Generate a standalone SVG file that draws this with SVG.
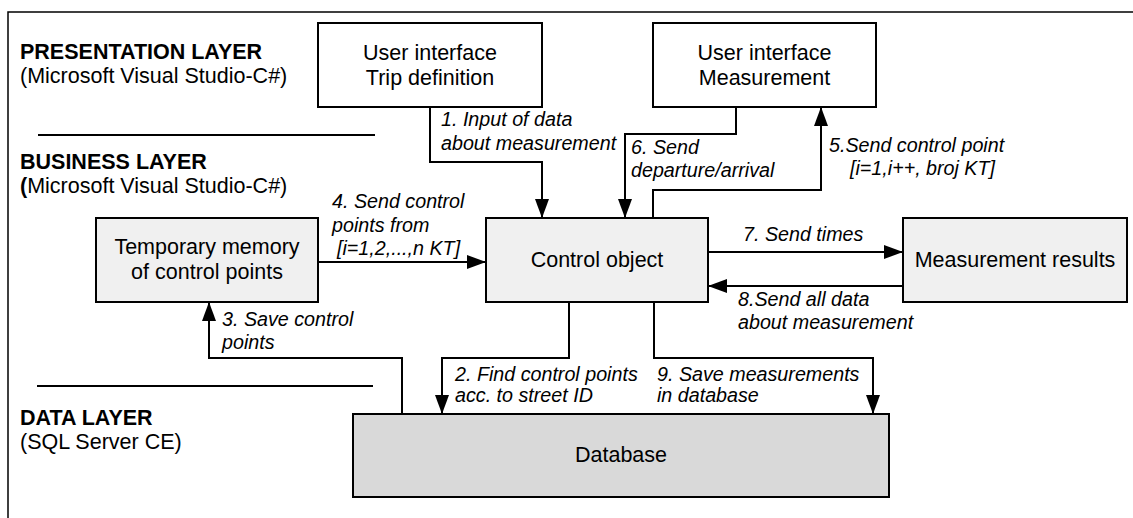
<svg xmlns="http://www.w3.org/2000/svg" width="1133" height="518" viewBox="0 0 1133 518">
<defs>
<marker id="ah" markerUnits="userSpaceOnUse" markerWidth="19" markerHeight="14" refX="19" refY="7" orient="auto" viewBox="0 0 19 14">
<path d="M0,0 L19,7 L0,14 z" fill="#000"/>
</marker>
<style>
.box{stroke:#000;stroke-width:2}
.w{fill:#fff}
.g{fill:#f0f0f0}
.d{fill:#d9d9d9}
.t{font-family:"Liberation Sans",Arial,sans-serif;font-size:21.5px;fill:#000}
.b{font-weight:bold}
.c{text-anchor:middle}
.l{font-family:"Liberation Sans",Arial,sans-serif;font-size:19.7px;font-style:italic;fill:#000}
.cn{fill:none;stroke:#000;stroke-width:2}
.ar{marker-end:url(#ah)}
.sep{stroke:#000;stroke-width:2}
.fr{fill:none;stroke:#000;stroke-width:1.5}
</style>
</defs>
<rect width="1133" height="518" fill="#fff"/>
<g id="frame">
<path class="fr" d="M8,518 L8,12 L1133,12"/>
<line class="sep" x1="38" y1="135" x2="375" y2="135"/>
<line class="sep" x1="37" y1="386" x2="373" y2="386"/>
</g>
<g id="layers">
<text class="t b" x="20" y="59">PRESENTATION LAYER</text>
<text class="t" x="20" y="83">(Microsoft Visual Studio-C#)</text>
<text class="t b" x="20" y="169">BUSINESS LAYER</text>
<text class="t" x="20" y="193"><tspan class="b">(</tspan>Microsoft Visual Studio-C#)</text>
<text class="t b" x="20" y="425">DATA LAYER</text>
<text class="t" x="20" y="449">(SQL Server CE)</text>
</g>
<g id="connectors">
<path class="cn ar" d="M430,107 L430,162 L542,162 L542,218"/>
<path class="cn ar" d="M569,302 L569,358 L442,358 L442,414"/>
<path class="cn ar" d="M402,414 L402,358 L209,358 L209,302"/>
<path class="cn ar" d="M318,262 L486,262"/>
<path class="cn ar" d="M653,218 L653,190 L821,190 L821,107"/>
<path class="cn ar" d="M736,107 L736,134 L625,134 L625,218"/>
<path class="cn ar" d="M708,252 L903,252"/>
<path class="cn ar" d="M903,286 L708,286"/>
<path class="cn ar" d="M654,302 L654,358 L873,358 L873,414"/>
</g>
<g id="labels">
<text class="l" x="441" y="126">1. Input of data</text>
<text class="l" x="441" y="150">about measurement</text>
<text class="l" x="455" y="381">2. Find control points</text>
<text class="l" x="455" y="402">acc. to street ID</text>
<text class="l" x="222" y="326">3. Save control</text>
<text class="l" x="222" y="349">points</text>
<text class="l" x="332" y="208">4. Send control</text>
<text class="l" x="332" y="232">points from</text>
<text class="l" x="337" y="255">[i=1,2,...,n KT]</text>
<text class="l" x="829" y="152">5.Send control point</text>
<text class="l" x="850" y="175">[i=1,i++, broj KT]</text>
<text class="l" x="631" y="154">6. Send</text>
<text class="l" x="631" y="177">departure/arrival</text>
<text class="l" x="743" y="241">7. Send times</text>
<text class="l" x="738" y="306">8.Send all data</text>
<text class="l" x="738" y="329">about measurement</text>
<text class="l" x="657" y="381">9. Save measurements</text>
<text class="l" x="657" y="402">in database</text>
</g>
<g id="ui-trip">
<rect class="box w" x="318" y="23" width="224" height="84"/>
<text class="t c" x="430" y="60">User interface</text>
<text class="t c" x="430" y="85">Trip definition</text>
</g>
<g id="ui-measurement">
<rect class="box w" x="653" y="23" width="223" height="84"/>
<text class="t c" x="764.5" y="60">User interface</text>
<text class="t c" x="764.5" y="85">Measurement</text>
</g>
<g id="temp-memory">
<rect class="box g" x="96" y="218" width="222" height="84"/>
<text class="t c" x="207" y="254">Temporary memory</text>
<text class="t c" x="207" y="279">of control points</text>
</g>
<g id="control-object">
<rect class="box g" x="486" y="218" width="222" height="84"/>
<text class="t c" x="597" y="267">Control object</text>
</g>
<g id="measurement-results">
<rect class="box g" x="903" y="218" width="224" height="84"/>
<text class="t c" x="1015" y="267">Measurement results</text>
</g>
<g id="database">
<rect class="box d" x="353" y="414" width="536" height="83"/>
<text class="t c" x="621" y="462">Database</text>
</g>
</svg>
